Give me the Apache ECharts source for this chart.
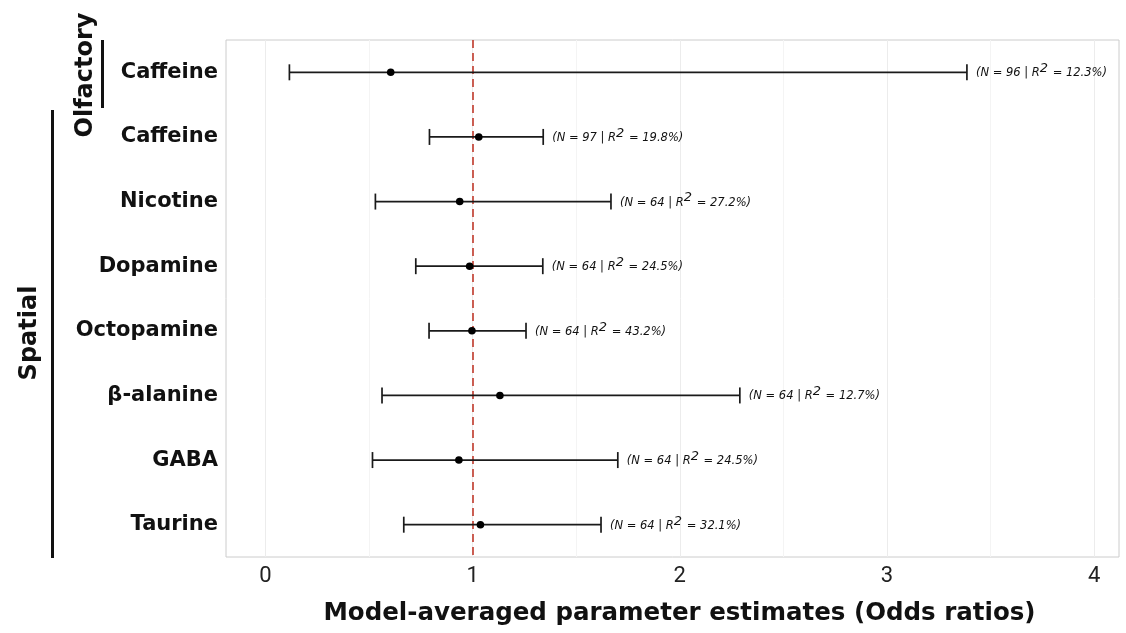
<!DOCTYPE html>
<html><head><meta charset="utf-8">
<script src="https://cdn.jsdelivr.net/npm/echarts@6/dist/echarts.min.js"></script>
<style>html,body{margin:0;padding:0;background:#fff}#c{width:1126px;height:633px}</style>
</head><body><div id="c"></div><script>
// ---- data ----
const categories = ['Caffeine', 'Caffeine', 'Nicotine', 'Dopamine', 'Octopamine', 'β-alanine', 'GABA', 'Taurine'];
const groups = ['Olfactory', 'Spatial', 'Spatial', 'Spatial', 'Spatial', 'Spatial', 'Spatial', 'Spatial'];
const estimates = [0.605, 1.030, 0.938, 0.986, 0.997, 1.132, 0.934, 1.038];
const lowerCI = [0.116, 0.792, 0.531, 0.726, 0.790, 0.563, 0.517, 0.668];
const upperCI = [3.386, 1.341, 1.668, 1.339, 1.258, 2.290, 1.701, 1.620];
const sampleN = [96, 97, 64, 64, 64, 64, 64, 64];
const rSquared = ['12.3', '19.8', '27.2', '24.5', '43.2', '12.7', '24.5', '32.1'];
const xTicks = [0, 1, 2, 3, 4];
const xMinorTicks = [0.5, 1.5, 2.5, 3.5];
const refValue = 1;
const xTitle = 'Model-averaged parameter estimates (Odds ratios)';

const chart = echarts.init(document.getElementById('c'));
const seriesData = categories.map((c, i) => [i, lowerCI[i], upperCI[i], estimates[i]]);
const ink = '#1a1a1a';
const mainFont = 'DejaVu Sans';

chart.setOption({
  backgroundColor: '#fff',
  animation: false,
  grid: { left: 226, right: 7, top: 40, bottom: 76, show: true, borderColor: '#cccccc', borderWidth: 1, backgroundColor: '#fff' },
  xAxis: {
    type: 'value', min: -0.19, max: 4.12,
    axisLine: { show: false }, axisTick: { show: false }, splitLine: { show: false },
    axisLabel: { customValues: xTicks, fontFamily: 'Roboto', fontSize: 22, color: '#222', margin: 8 },
    name: xTitle, nameLocation: 'middle', nameGap: 44,
    nameTextStyle: { fontFamily: mainFont, fontWeight: 'bold', fontSize: 24.5, color: '#111', padding: [0, 0, 0, 14] }
  },
  yAxis: {
    type: 'category', data: categories, inverse: true,
    axisLine: { show: false }, axisTick: { show: false }, splitLine: { show: false },
    axisLabel: { fontFamily: mainFont, fontWeight: 'bold', fontSize: 21, color: '#111', margin: 8 }
  },
  series: [
    {
      type: 'line', data: [], silent: true, z: 1,
      markLine: {
        silent: true, symbol: 'none', label: { show: false }, z: 1,
        data: [
          ...xTicks.map(v => ({ xAxis: v, lineStyle: { color: '#ececec', width: 1, type: 'solid' } })),
          ...xMinorTicks.map(v => ({ xAxis: v, lineStyle: { color: '#f4f4f4', width: 1, type: 'solid' } }))
        ]
      }
    },
    {
      type: 'line', data: [], silent: true, z: 2,
      markLine: {
        silent: true, symbol: 'none', label: { show: false }, z: 2,
        data: [{ xAxis: refValue }],
        lineStyle: { color: '#c0392b', width: 1.6, type: [8, 5] }
      }
    },
    {
      type: 'custom', data: seriesData, z: 6,
      encode: { x: [1, 2, 3], y: 0 },
      renderItem(params, api) {
        const i = api.value(0);
        const lo = api.coord([api.value(1), i]);
        const hi = api.coord([api.value(2), i]);
        const mid = api.coord([api.value(3), i]);
        const y = lo[1];
        const h = 8;
        const st = { stroke: ink, lineWidth: 1.7 };
        return {
          type: 'group', children: [
            { type: 'line', shape: { x1: lo[0], y1: y, x2: hi[0], y2: y }, style: st },
            { type: 'line', shape: { x1: lo[0], y1: y - h, x2: lo[0], y2: y + h }, style: st },
            { type: 'line', shape: { x1: hi[0], y1: y - h, x2: hi[0], y2: y + h }, style: st },
            { type: 'circle', shape: { cx: mid[0], cy: y, r: 3.8 }, style: { fill: '#000' } },
            {
              type: 'text', x: hi[0] + 9, y: y + 1,
              style: {
                text: '{a|(N = ' + sampleN[i] + ' | R}{s|2}{a| = ' + rSquared[i] + '%)}',
                align: 'left', verticalAlign: 'middle',
                rich: {
                  a: { fontFamily: mainFont, fontStyle: 'italic', fontSize: 11.5, fill: '#111', color: '#111' },
                  s: { fontFamily: mainFont, fontStyle: 'italic', fontSize: 13, fill: '#111', color: '#111', padding: [0, 1, 9, 0] }
                }
              }
            }
          ]
        };
      }
    }
  ],
  graphic: [
    { type: 'text', x: 86, y: 75, rotation: Math.PI / 2,
      style: { text: groups[0], fontFamily: mainFont, fontWeight: 'bold', fontSize: 24, fill: '#111', align: 'center', verticalAlign: 'middle' } },
    { type: 'rect', shape: { x: 101, y: 40, width: 3, height: 68 }, style: { fill: '#111' } },
    { type: 'text', x: 30, y: 333, rotation: Math.PI / 2,
      style: { text: groups[1], fontFamily: mainFont, fontWeight: 'bold', fontSize: 24, fill: '#111', align: 'center', verticalAlign: 'middle' } },
    { type: 'rect', shape: { x: 51, y: 110, width: 3, height: 448 }, style: { fill: '#111' } }
  ]
});
</script></body></html>
